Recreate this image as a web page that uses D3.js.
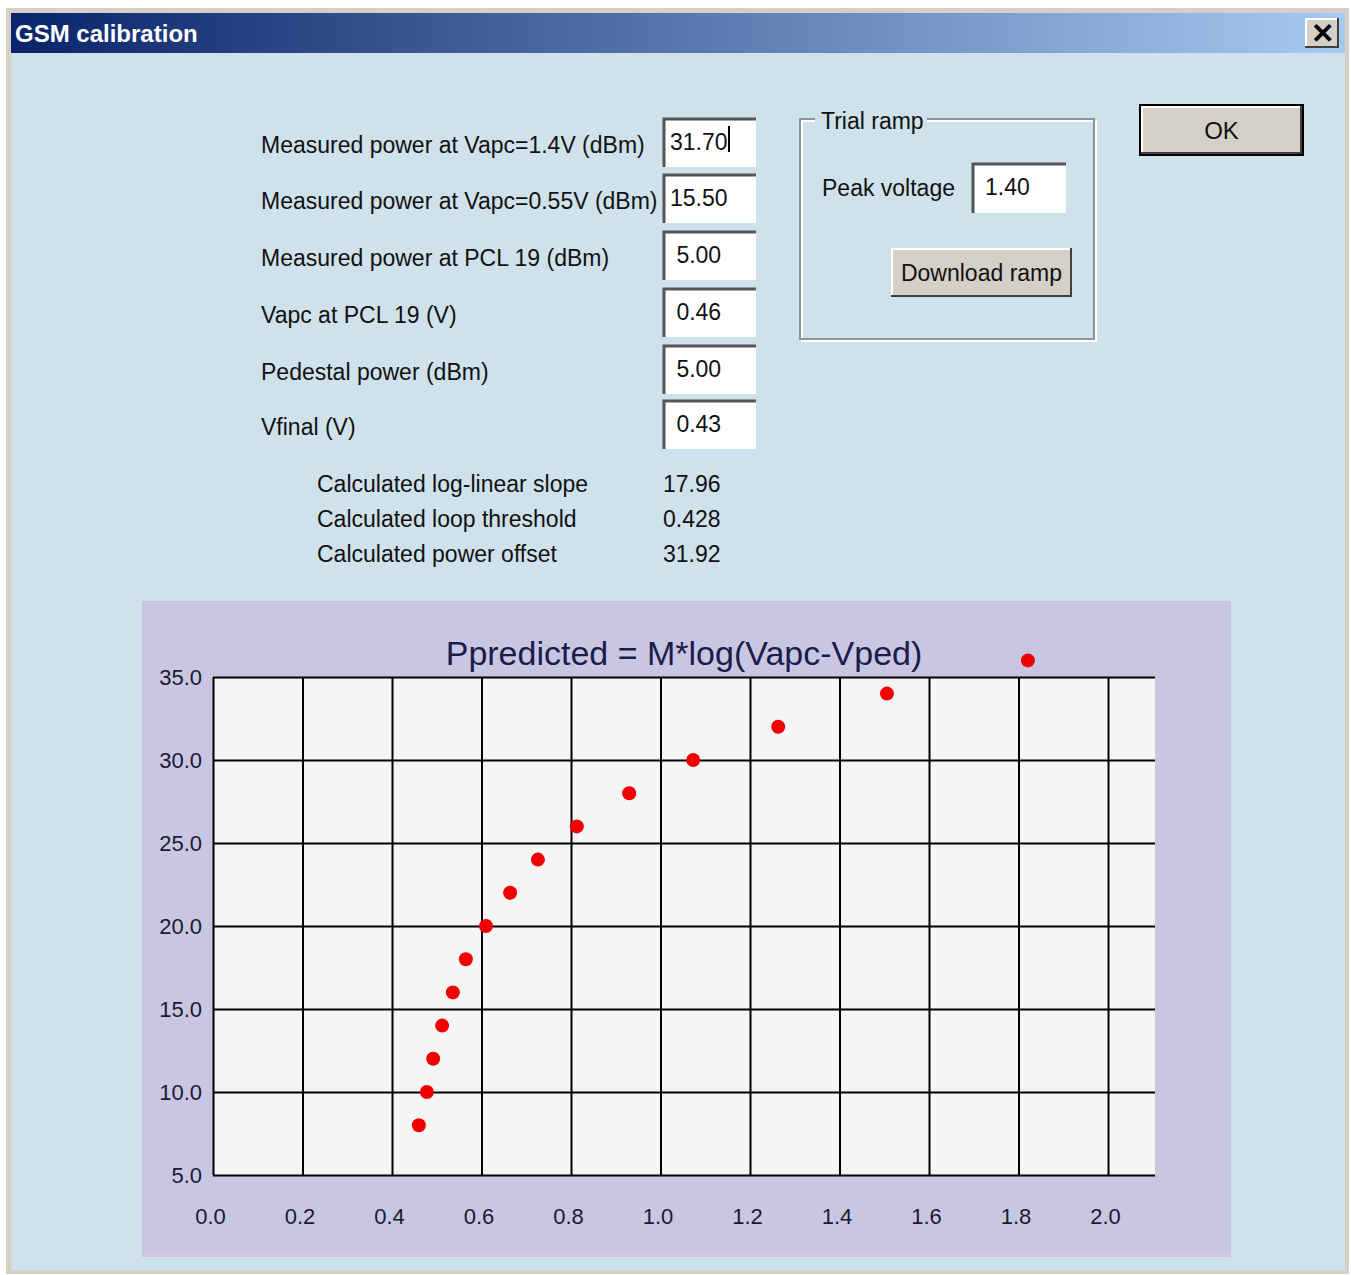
<!DOCTYPE html>
<html>
<head>
<meta charset="utf-8">
<script src="https://cdn.jsdelivr.net/npm/d3@7"></script>
<style>
  body { margin: 0; background: #ffffff; }
  svg { display: block; }
  text { font-family: "Liberation Sans", Arial, sans-serif; }
</style>
</head>
<body>
<div id="chart"></div>
<script>
// form contents
const fieldLabels = [
  'Measured power at Vapc=1.4V (dBm)',
  'Measured power at Vapc=0.55V (dBm)',
  'Measured power at PCL 19 (dBm)',
  'Vapc at PCL 19 (V)',
  'Pedestal power (dBm)',
  'Vfinal (V)'
];
const fieldValues = ['31.70', '15.50', ' 5.00', ' 0.46', ' 5.00', ' 0.43'];
const calcLabels = ['Calculated log-linear slope', 'Calculated loop threshold', 'Calculated power offset'];
const calcValues = ['17.96', '0.428', '31.92'];

// chart data
const vapc = [0.46, 0.478, 0.492, 0.512, 0.536, 0.565, 0.61, 0.664, 0.726, 0.813, 0.93, 1.073, 1.263, 1.506, 1.821];
const power = [8, 10, 12, 14, 16, 18, 20, 22, 24, 26, 28, 30, 32, 34, 36];
const xTicks = [0.0, 0.2, 0.4, 0.6, 0.8, 1.0, 1.2, 1.4, 1.6, 1.8, 2.0];
const yTicks = [5, 10, 15, 20, 25, 30, 35];
const chartTitle = 'Ppredicted = M*log(Vapc-Vped)';

const W = 1351, H = 1275;
const svg = d3.select('#chart').append('svg')
  .attr('width', W)
  .attr('height', H);

const ink = '#111111';

// window frame
svg.append('rect').attr('x', 6).attr('y', 8).attr('width', 1343).attr('height', 1266)
  .attr('fill', '#d4d0c8');
svg.append('rect').attr('x', 11).attr('y', 13).attr('width', 1334).attr('height', 1257)
  .attr('fill', '#cfe1eb');

// title bar
const grad = svg.append('defs').append('linearGradient').attr('id', 'tb');
grad.append('stop').attr('offset', '0%').attr('stop-color', '#0a246a');
grad.append('stop').attr('offset', '100%').attr('stop-color', '#a6caf0');
svg.append('rect').attr('x', 11).attr('y', 13).attr('width', 1334).attr('height', 40)
  .attr('fill', 'url(#tb)');
svg.append('text').attr('x', 15).attr('y', 42)
  .attr('fill', '#ffffff').attr('font-weight', 'bold').attr('font-size', 24)
  .text('GSM calibration');

// raised button helper
function button(x, y, w, h, label, fs, strong) {
  const g = svg.append('g');
  if (strong) g.append('rect').attr('x', x - 2).attr('y', y - 2).attr('width', w + 4).attr('height', h + 4).attr('fill', '#000');
  g.append('rect').attr('x', x).attr('y', y).attr('width', w).attr('height', h).attr('fill', '#404040');
  g.append('rect').attr('x', x).attr('y', y).attr('width', w - 2).attr('height', h - 2).attr('fill', '#ffffff');
  g.append('rect').attr('x', x + 2).attr('y', y + 2).attr('width', w - 4).attr('height', h - 4).attr('fill', '#d4d0c8');
  g.append('text').attr('x', x + w / 2).attr('y', y + h / 2).attr('dy', '0.36em')
    .attr('text-anchor', 'middle').attr('font-size', fs).attr('fill', ink).text(label);
  return g;
}

// close button
button(1305, 18, 34, 30, '', 22);
svg.append('text').attr('x', 1322).attr('y', 33).attr('dy', '0.36em')
  .attr('text-anchor', 'middle').attr('font-size', 28).attr('font-weight', 'bold')
  .attr('fill', '#000').text('\u2715');

// sunken edit box helper
function editBox(x, y, w, h, value, pad = 6) {
  svg.append('rect').attr('x', x).attr('y', y).attr('width', w).attr('height', h).attr('fill', '#ffffff');
  svg.append('path').attr('d', `M${x},${y + h}V${y}H${x + w}`).attr('fill', 'none')
    .attr('stroke', '#555').attr('stroke-width', 3);
  svg.append('text').attr('x', x + pad).attr('y', y + h / 2).attr('dy', '0.3em')
    .attr('font-size', 23).attr('fill', ink).attr('xml:space', 'preserve').text(value);
}

// labelled fields
const rowY = [145, 201, 258, 315, 372, 427];
fieldLabels.forEach((lab, i) => {
  svg.append('text').attr('x', 261).attr('y', rowY[i]).attr('dy', '0.36em')
    .attr('font-size', 23).attr('fill', ink).text(lab);
  editBox(664, rowY[i] - 26, 92, 48, fieldValues[i]);
});
// caret in first box
svg.append('line').attr('x1', 729).attr('x2', 729).attr('y1', 126).attr('y2', 152)
  .attr('stroke', '#000').attr('stroke-width', 2);

const calcY = [484, 519, 554];
calcLabels.forEach((lab, i) => {
  svg.append('text').attr('x', 317).attr('y', calcY[i]).attr('dy', '0.36em')
    .attr('font-size', 23).attr('fill', ink).text(lab);
  svg.append('text').attr('x', 663).attr('y', calcY[i]).attr('dy', '0.36em')
    .attr('font-size', 23).attr('fill', ink).text(calcValues[i]);
});

// Trial ramp group box
svg.append('rect').attr('x', 802).attr('y', 121).attr('width', 294).attr('height', 220)
  .attr('fill', 'none').attr('stroke', '#ffffff').attr('stroke-width', 2);
svg.append('rect').attr('x', 800).attr('y', 119).attr('width', 294).attr('height', 220)
  .attr('fill', 'none').attr('stroke', '#8a9499').attr('stroke-width', 2);
svg.append('rect').attr('x', 815).attr('y', 108).attr('width', 112).attr('height', 26).attr('fill', '#cfe1eb');
svg.append('text').attr('x', 821).attr('y', 121).attr('dy', '0.36em')
  .attr('font-size', 23).attr('fill', ink).text('Trial ramp');
svg.append('text').attr('x', 822).attr('y', 188).attr('dy', '0.36em')
  .attr('font-size', 23).attr('fill', ink).text('Peak voltage');
editBox(973, 164, 93, 49, '1.40', 12);
button(891, 248, 181, 49, 'Download ramp', 23);

// OK button
button(1141, 106, 161, 48, 'OK', 24, true);

// chart panel
svg.append('rect').attr('x', 142).attr('y', 601).attr('width', 1089).attr('height', 656)
  .attr('fill', '#c9c6e2');
svg.append('rect').attr('x', 142).attr('y', 1253).attr('width', 1089).attr('height', 3)
  .attr('fill', '#d7c4de');

const x = d3.scaleLinear().domain([0, 2.105]).range([213, 1155]);
const y = d3.scaleLinear().domain([5, 35]).range([1175, 677]);

svg.append('rect').attr('x', x(0)).attr('y', y(35))
  .attr('width', x(2.105) - x(0)).attr('height', y(5) - y(35))
  .attr('fill', '#f5f5f5');

// grid
svg.append('g').attr('transform', `translate(0,${y(5)})`)
  .call(d3.axisBottom(x).tickValues(xTicks).tickSize(-(y(5) - y(35))).tickFormat(''))
  .call(g => g.select('.domain').remove())
  .call(g => g.selectAll('line').attr('stroke', '#000').attr('stroke-width', 2));
svg.append('g').attr('transform', `translate(${x(0)},0)`)
  .call(d3.axisLeft(y).tickValues(yTicks).tickSize(-(x(2.105) - x(0))).tickFormat(''))
  .call(g => g.select('.domain').remove())
  .call(g => g.selectAll('line').attr('stroke', '#000').attr('stroke-width', 2));

// tick labels
svg.append('g').attr('transform', `translate(-3,${y(5)})`)
  .call(d3.axisBottom(x).tickValues(xTicks).tickSize(0).tickPadding(33).tickFormat(d3.format('.1f')))
  .call(g => g.select('.domain').remove())
  .call(g => g.selectAll('text').attr('font-size', 22).attr('fill', '#1a1a33')
    .attr('font-family', '"Liberation Sans", Arial, sans-serif'));
svg.append('g').attr('transform', `translate(${x(0)},0)`)
  .call(d3.axisLeft(y).tickValues(yTicks).tickSize(0).tickPadding(11).tickFormat(d3.format('.1f')))
  .call(g => g.select('.domain').remove())
  .call(g => g.selectAll('text').attr('font-size', 22).attr('fill', '#1a1a33')
    .attr('font-family', '"Liberation Sans", Arial, sans-serif'));

// title
svg.append('text').attr('x', 684).attr('y', 653).attr('dy', '0.36em')
  .attr('text-anchor', 'middle').attr('font-size', 34).attr('fill', '#1c1c4c')
  .text(chartTitle);

// points
svg.append('g').selectAll('circle')
  .data(vapc.map((v, i) => [v, power[i]]))
  .enter()
  .append('circle')
  .attr('cx', d => x(d[0]))
  .attr('cy', d => y(d[1]))
  .attr('r', 7)
  .attr('fill', '#f00000');
</script>
</body>
</html>
